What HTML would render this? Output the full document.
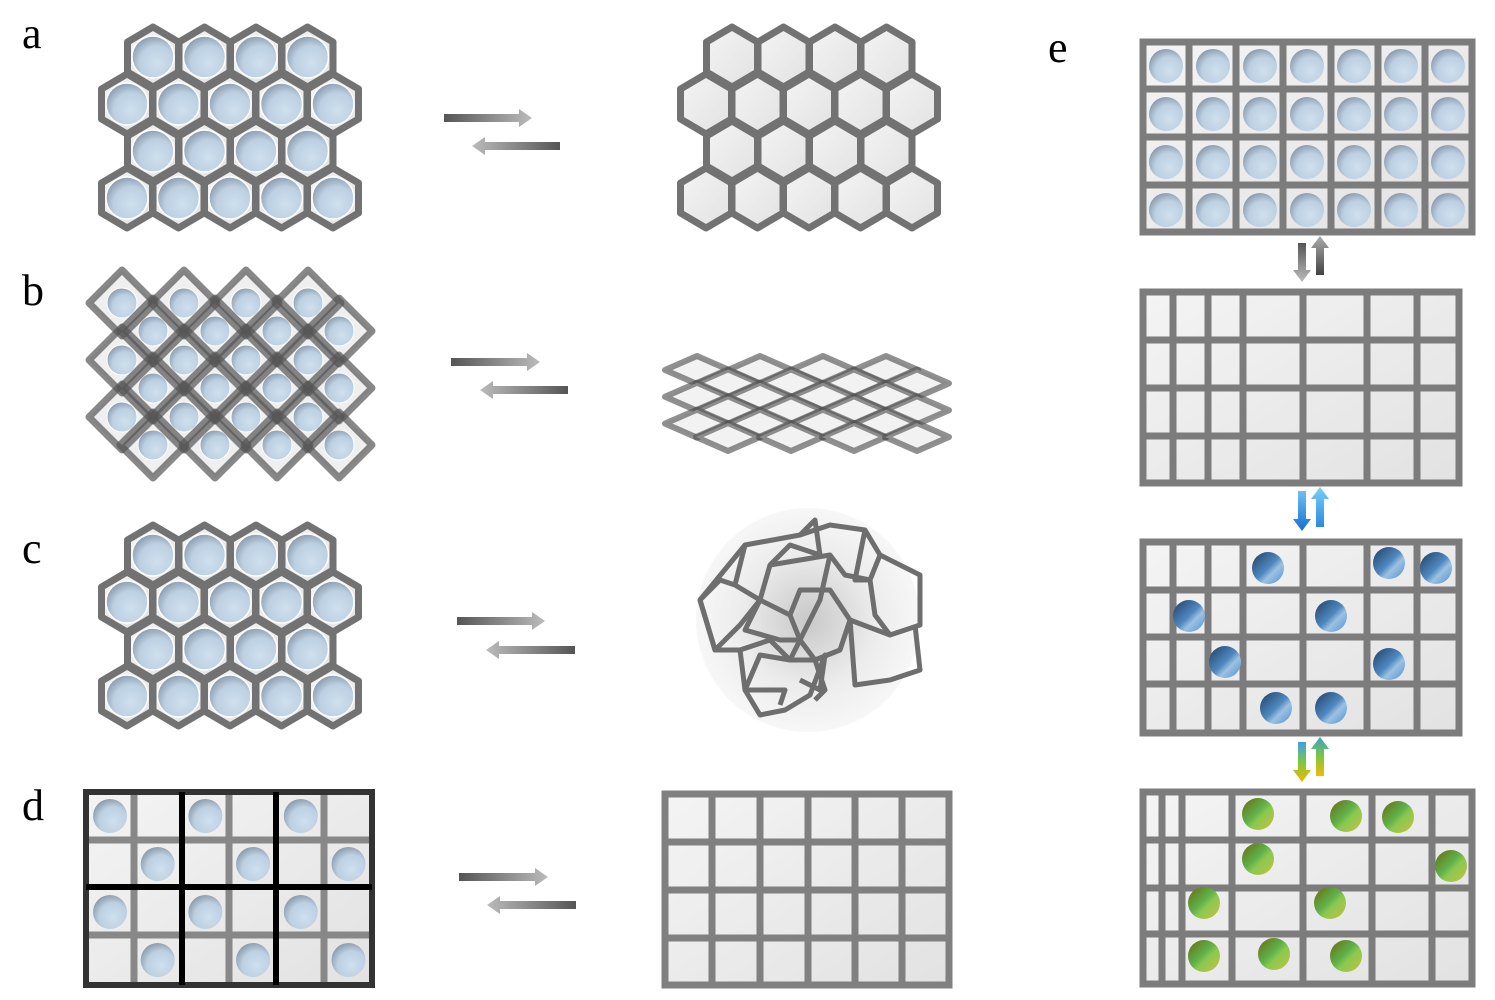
<!DOCTYPE html>
<html><head><meta charset="utf-8">
<style>
html,body{margin:0;padding:0;background:#fff;}
svg{display:block;}
text{font-family:"Liberation Serif",serif;font-size:44px;fill:#000;}
</style></head>
<body>
<svg id="s" width="1495" height="1000" viewBox="0 0 1495 1000" xmlns="http://www.w3.org/2000/svg">
<defs>
<radialGradient id="cb" cx="0.6" cy="0.65" r="0.7">
<stop offset="0" stop-color="#cfe0ee"/><stop offset="0.6" stop-color="#bcd0e2"/><stop offset="1" stop-color="#8596a8"/></radialGradient>
<linearGradient id="cellg" x1="0" y1="0" x2="1" y2="1"><stop offset="0" stop-color="#f4f4f4"/><stop offset="1" stop-color="#e2e2e2"/></linearGradient>
<linearGradient id="ballb" x1="0" y1="0" x2="1" y2="1"><stop offset="0" stop-color="#1f3f63"/><stop offset="0.5" stop-color="#4f88bf"/><stop offset="0.65" stop-color="#9cc2e2"/><stop offset="1" stop-color="#4f8fd0"/></linearGradient>
<linearGradient id="ballg" x1="0" y1="0" x2="1" y2="1"><stop offset="0" stop-color="#6b6a10"/><stop offset="0.45" stop-color="#5fb04a"/><stop offset="0.6" stop-color="#8cc850"/><stop offset="1" stop-color="#c7c040"/></linearGradient>
<linearGradient id="arR" x1="0" y1="0" x2="1" y2="0"><stop offset="0" stop-color="#555"/><stop offset="1" stop-color="#bbb"/></linearGradient>
<linearGradient id="arL" x1="1" y1="0" x2="0" y2="0"><stop offset="0" stop-color="#555"/><stop offset="1" stop-color="#bbb"/></linearGradient>
<linearGradient id="arD" x1="0" y1="0" x2="0" y2="1"><stop offset="0" stop-color="#555"/><stop offset="1" stop-color="#bbb"/></linearGradient>
<linearGradient id="arU" x1="0" y1="1" x2="0" y2="0"><stop offset="0" stop-color="#444"/><stop offset="1" stop-color="#aaa"/></linearGradient>
<linearGradient id="blD" x1="0" y1="0" x2="0" y2="1"><stop offset="0" stop-color="#6fc0f0"/><stop offset="1" stop-color="#1670d0"/></linearGradient>
<linearGradient id="blU" x1="0" y1="1" x2="0" y2="0"><stop offset="0" stop-color="#2a8ae0"/><stop offset="1" stop-color="#7acff5"/></linearGradient>
<linearGradient id="rbD" x1="0" y1="0" x2="0" y2="1"><stop offset="0" stop-color="#3aa0e8"/><stop offset="0.5" stop-color="#7cc840"/><stop offset="1" stop-color="#f0b800"/></linearGradient>
<linearGradient id="rbU" x1="0" y1="1" x2="0" y2="0"><stop offset="0" stop-color="#f7b800"/><stop offset="0.5" stop-color="#7cc840"/><stop offset="1" stop-color="#3aa0c8"/></linearGradient>
<radialGradient id="blob" cx="0.5" cy="0.5" r="0.5"><stop offset="0" stop-color="#c8c8c8"/><stop offset="0.6" stop-color="#ececec"/><stop offset="1" stop-color="#f7f7f7"/></radialGradient>
</defs>
<g id="g"></g>
<text x="22" y="48">a</text>
<text x="22" y="305">b</text>
<text x="22" y="563">c</text>
<text x="22" y="820">d</text>
<text x="1048" y="62">e</text>
</svg>
<script>
var G=document.getElementById('g'),out='';
function hex(cx,cy,circ){var w=25.5,r=30,p=[[cx,cy-r],[cx+w,cy-r/2],[cx+w,cy+r/2],[cx,cy+r],[cx-w,cy+r/2],[cx-w,cy-r/2]];
out+='<polygon points="'+p.map(a=>a.join(',')).join(' ')+'" fill="url(#cellg)" stroke="#727272" stroke-width="7" stroke-linejoin="round"/>';
if(circ)out+='<circle cx="'+cx+'" cy="'+cy+'" r="21" fill="url(#cb)" stroke="#fff" stroke-width="1.5"/>';}
function honey(dx,dy,circ){var rows=[[153,57,4],[127,104,5],[153,151,4],[127,198,5]];
rows.forEach(function(r){for(var i=0;i<r[2];i++)hex(r[0]+51.5*i+dx,r[1]+dy,circ);});}
honey(0,0,1);honey(579,0,0);honey(0,498,1);
function harrow(x1,x2,y,dir){var h=8,hl=13,hw=9;
if(dir>0)out+='<polygon points="'+x1+','+(y-h/2)+' '+(x2-hl)+','+(y-h/2)+' '+(x2-hl)+','+(y-hw)+' '+x2+','+y+' '+(x2-hl)+','+(y+hw)+' '+(x2-hl)+','+(y+h/2)+' '+x1+','+(y+h/2)+'" fill="url(#arR)"/>';
else out+='<polygon points="'+x2+','+(y-h/2)+' '+(x1+hl)+','+(y-h/2)+' '+(x1+hl)+','+(y-hw)+' '+x1+','+y+' '+(x1+hl)+','+(y+hw)+' '+(x1+hl)+','+(y+h/2)+' '+x2+','+(y+h/2)+'" fill="url(#arL)"/>';}
[[444,532,118,472,560,146],[451,540,362,480,568,390],[457,545,621,486,575,650],[459,548,877,487,576,905]].forEach(function(a){harrow(a[0],a[1],a[2],1);harrow(a[3],a[4],a[5],-1);});
// b left diamonds
var dia=[];for(var j=0;j<3;j++)for(var i=0;i<4;i++){dia.push([122+62*i,303+57*j]);dia.push([153+62*i,331+57*j]);}
dia.forEach(function(d){var r=33;out+='<polygon points="'+d[0]+','+(d[1]-r)+' '+(d[0]+r)+','+d[1]+' '+d[0]+','+(d[1]+r)+' '+(d[0]-r)+','+d[1]+'" fill="#efefef"/>';});
dia.forEach(function(d){out+='<circle cx="'+d[0]+'" cy="'+d[1]+'" r="15" fill="url(#cb)" stroke="#fff" stroke-width="1"/>';});
dia.forEach(function(d){var r=33;out+='<polygon points="'+d[0]+','+(d[1]-r)+' '+(d[0]+r)+','+d[1]+' '+d[0]+','+(d[1]+r)+' '+(d[0]-r)+','+d[1]+'" fill="none" stroke="#555" stroke-opacity="0.7" stroke-width="7" stroke-linejoin="round"/>';});
// b right
var rh=[];for(var j=0;j<6;j++)for(var i=0;i<4;i++){var x=(j%2?728:697)+63*i;rh.push([x,370+13.4*j]);}
rh.forEach(function(d){out+='<polygon points="'+d[0]+','+(d[1]-14)+' '+(d[0]+32)+','+d[1]+' '+d[0]+','+(d[1]+14)+' '+(d[0]-32)+','+d[1]+'" fill="#f2f2f2" stroke="#555" stroke-opacity="0.65" stroke-width="6" stroke-linejoin="round"/>';});
// c right
out+='<circle cx="808" cy="620" r="112" fill="url(#blob)"/>';
var cr=["700,600 745,545 800,535 830,525 865,530 880,555 870,580 845,575 830,555 800,560 770,565 760,600 790,615 800,590 830,590 850,620 840,650 815,660 800,640 790,615",
"700,600 715,650 740,650 745,690 760,715 785,710 810,695 825,655 820,690 800,680",
"745,545 735,585 760,600 740,625 715,650 700,600 720,580 735,585",
"880,555 920,575 920,625 890,635 850,620 855,685 890,680 920,670 915,625",
"830,555 820,600 800,640 790,660 760,655 745,690 785,690 780,705",
"770,565 790,545 820,555 815,520 800,535",
"760,600 745,630 780,640 800,640",
"865,530 855,580 870,580 875,615 890,635",
"740,650 770,640 790,660 815,660 825,690 815,700"];
cr.forEach(function(p){out+='<polyline points="'+p+'" fill="none" stroke="#6e6e6e" stroke-width="5" stroke-linejoin="round"/>';});
// grids
function grid(x0,y0,x1,y1,xs,ys,col,bw,bcol){
out+='<rect x="'+x0+'" y="'+y0+'" width="'+(x1-x0)+'" height="'+(y1-y0)+'" fill="url(#cellg)"/>';
xs.forEach(function(x){out+='<line x1="'+x+'" y1="'+y0+'" x2="'+x+'" y2="'+y1+'" stroke="'+col+'" stroke-width="7"/>';});
ys.forEach(function(y){out+='<line x1="'+x0+'" y1="'+y+'" x2="'+x1+'" y2="'+y+'" stroke="'+col+'" stroke-width="7"/>';});
out+='<rect x="'+x0+'" y="'+y0+'" width="'+(x1-x0)+'" height="'+(y1-y0)+'" fill="none" stroke="'+(bcol||col)+'" stroke-width="'+(bw||7)+'"/>';}
function ball(x,y,r,f){out+='<circle cx="'+x+'" cy="'+y+'" r="'+r+'" fill="'+f+'"/>';}
// d left
grid(86,792,372,985,[134,229,324],[840,935],"#888",6,"#333");
for(var j=0;j<4;j++)for(var i=0;i<6;i++)if((i+j)%2==0)ball(110+47.7*i,816+48*j,17,"url(#cb)");
out+='<line x1="182" y1="792" x2="182" y2="985" stroke="#000" stroke-width="6"/><line x1="276" y1="792" x2="276" y2="985" stroke="#000" stroke-width="6"/><line x1="86" y1="887" x2="372" y2="887" stroke="#000" stroke-width="6"/>';
// d right
grid(665,794,949,985,[712,760,808,855,902],[842,890,938],"#808080");
// e1
grid(1143,42,1472,232,[1189,1236,1283,1331,1378,1425],[89,137,185],"#7c7c7c");
for(var j=0;j<4;j++)for(var i=0;i<7;i++)ball(1166+47*i,66+48*j,17,"url(#cb)");
var ex=[1173,1208,1243,1303,1367,1417];
grid(1143,292,1459,483,ex,[340,388,436],"#7c7c7c");
grid(1143,542,1459,733,ex,[590,637,684],"#7c7c7c");
[[1268,568],[1389,563],[1436,568],[1189,616],[1331,616],[1225,662],[1389,664],[1276,708],[1331,708]].forEach(function(b){ball(b[0],b[1],16,"url(#ballb)");});
grid(1143,792,1472,984,[1162,1182,1232,1303,1372,1432],[840,888,934],"#7c7c7c");
[[1258,814],[1346,816],[1398,817],[1258,859],[1451,866],[1204,903],[1330,903],[1204,956],[1274,954],[1346,956]].forEach(function(b){ball(b[0],b[1],16,"url(#ballg)");});
function varrow(x,y1,y2,dir,f){var w=8,hw=9,hl=12;
if(dir>0)out+='<polygon points="'+(x-w/2)+','+y1+' '+(x+w/2)+','+y1+' '+(x+w/2)+','+(y2-hl)+' '+(x+hw)+','+(y2-hl)+' '+x+','+y2+' '+(x-hw)+','+(y2-hl)+' '+(x-w/2)+','+(y2-hl)+'" fill="url(#'+f+')"/>';
else out+='<polygon points="'+(x-w/2)+','+y2+' '+(x+w/2)+','+y2+' '+(x+w/2)+','+(y1+hl)+' '+(x+hw)+','+(y1+hl)+' '+x+','+y1+' '+(x-hw)+','+(y1+hl)+' '+(x-w/2)+','+(y1+hl)+'" fill="url(#'+f+')"/>';}
varrow(1302,243,282,1,"arD");varrow(1320,236,275,-1,"arU");
varrow(1302,491,531,1,"blD");varrow(1320,487,527,-1,"blU");
varrow(1302,742,782,1,"rbD");varrow(1320,737,776,-1,"rbU");
G.innerHTML=out;
</script>
</body></html>
